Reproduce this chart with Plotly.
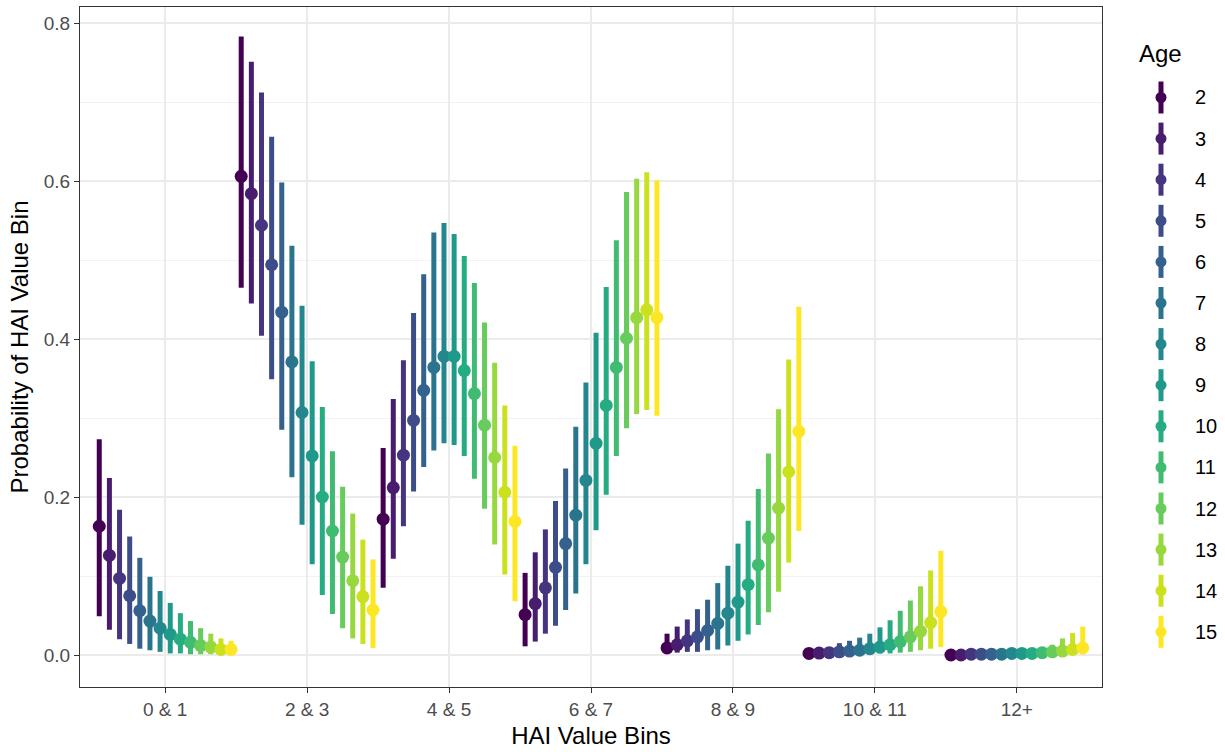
import plotly.graph_objects as go

# HAI value bins on the x axis and the ages shown as dodged point-ranges
bins = ["0 & 1", "2 & 3", "4 & 5", "6 & 7", "8 & 9", "10 & 11", "12+"]
ages = [2, 3, 4, 5, 6, 7, 8, 9, 10, 11, 12, 13, 14, 15]

# viridis palette, one colour per age
age_colors = ["#440154", "#481C6E", "#453581", "#3D4D8A", "#34618D", "#2B748E", "#24878E",
              "#1F998A", "#25AC82", "#40BC72", "#67CC5C", "#97D83F", "#CBE11E", "#FDE725"]

# estimated probability with lower / upper interval, per bin, ages 2..15
est_0_1 = [0.163, 0.126, 0.097, 0.075, 0.056, 0.043, 0.034, 0.026, 0.020, 0.016, 0.012, 0.010, 0.007, 0.007]
lo_0_1 = [0.049, 0.032, 0.020, 0.014, 0.008, 0.006, 0.004, 0.002, 0.002, 0.001, 0.001, 0.001, 0.000, 0.000]
hi_0_1 = [0.273, 0.224, 0.184, 0.150, 0.123, 0.099, 0.081, 0.066, 0.053, 0.043, 0.034, 0.027, 0.021, 0.018]

est_2_3 = [0.606, 0.584, 0.544, 0.494, 0.434, 0.371, 0.307, 0.252, 0.200, 0.157, 0.124, 0.094, 0.074, 0.057]
lo_2_3 = [0.465, 0.445, 0.404, 0.349, 0.285, 0.225, 0.165, 0.115, 0.076, 0.052, 0.034, 0.021, 0.014, 0.009]
hi_2_3 = [0.783, 0.751, 0.712, 0.656, 0.598, 0.518, 0.442, 0.372, 0.314, 0.258, 0.213, 0.179, 0.146, 0.121]

est_4_5 = [0.172, 0.212, 0.253, 0.297, 0.335, 0.364, 0.378, 0.378, 0.360, 0.331, 0.291, 0.250, 0.206, 0.169]
lo_4_5 = [0.085, 0.122, 0.163, 0.207, 0.238, 0.259, 0.268, 0.266, 0.252, 0.223, 0.185, 0.140, 0.102, 0.068]
hi_4_5 = [0.262, 0.324, 0.373, 0.433, 0.482, 0.535, 0.547, 0.533, 0.505, 0.471, 0.421, 0.370, 0.316, 0.265]

est_6_7 = [0.051, 0.065, 0.085, 0.111, 0.141, 0.177, 0.221, 0.268, 0.316, 0.364, 0.401, 0.427, 0.437, 0.427]
lo_6_7 = [0.011, 0.017, 0.027, 0.037, 0.057, 0.078, 0.115, 0.158, 0.203, 0.252, 0.287, 0.305, 0.310, 0.303]
hi_6_7 = [0.104, 0.130, 0.159, 0.195, 0.236, 0.289, 0.345, 0.408, 0.466, 0.525, 0.586, 0.603, 0.611, 0.601]

est_8_9 = [0.009, 0.013, 0.018, 0.023, 0.031, 0.040, 0.053, 0.067, 0.089, 0.114, 0.148, 0.186, 0.232, 0.283]
lo_8_9 = [0.002, 0.003, 0.004, 0.004, 0.006, 0.007, 0.012, 0.018, 0.026, 0.038, 0.054, 0.080, 0.117, 0.157]
hi_8_9 = [0.027, 0.036, 0.045, 0.058, 0.070, 0.091, 0.113, 0.141, 0.170, 0.210, 0.255, 0.311, 0.374, 0.441]

est_10_11 = [0.002, 0.0025, 0.003, 0.004, 0.005, 0.006, 0.008, 0.010, 0.013, 0.017, 0.023, 0.030, 0.041, 0.055]
lo_10_11 = [0.000, 0.000, 0.000, 0.001, 0.001, 0.001, 0.001, 0.002, 0.002, 0.003, 0.004, 0.006, 0.008, 0.010]
hi_10_11 = [0.006, 0.008, 0.010, 0.015, 0.018, 0.022, 0.027, 0.035, 0.044, 0.056, 0.069, 0.087, 0.107, 0.132]

est_12p = [0.000, 0.000, 0.001, 0.001, 0.001, 0.001, 0.002, 0.002, 0.002, 0.003, 0.004, 0.005, 0.007, 0.009]
lo_12p = [0.000, 0.000, 0.000, 0.000, 0.000, 0.000, 0.000, 0.000, 0.000, 0.000, 0.000, 0.000, 0.001, 0.001]
hi_12p = [0.003, 0.003, 0.003, 0.004, 0.004, 0.005, 0.006, 0.007, 0.008, 0.010, 0.013, 0.021, 0.028, 0.036]

est_by_bin = [est_0_1, est_2_3, est_4_5, est_6_7, est_8_9, est_10_11, est_12p]
lo_by_bin = [lo_0_1, lo_2_3, lo_4_5, lo_6_7, lo_8_9, lo_10_11, lo_12p]
hi_by_bin = [hi_0_1, hi_2_3, hi_4_5, hi_6_7, hi_8_9, hi_10_11, hi_12p]

W, H = 1225, 752
ML, MR, MT, MB = 80, 123, 7, 65
FONT = "Liberation Sans, Arial, sans-serif"
DODGE = 1.0
n_age = len(ages)

fig = go.Figure()

for j, age in enumerate(ages):
    col = age_colors[j]
    xs = [b + 1 + (j - (n_age - 1) / 2) * DODGE / n_age for b in range(len(bins))]
    mid = [e[j] for e in est_by_bin]
    low = [l[j] for l in lo_by_bin]
    high = [h[j] for h in hi_by_bin]
    fig.add_trace(go.Scatter(
        x=xs, y=mid, mode="markers", name=str(age), showlegend=False,
        marker=dict(color=col, size=13, line=dict(width=0)),
        error_y=dict(type="data", symmetric=False,
                     array=[h - m for h, m in zip(high, mid)],
                     arrayminus=[m - l for m, l in zip(mid, low)],
                     thickness=5, width=0, color=col),
        hovertemplate="Age " + str(age) + "<br>%{y:.3f}<extra></extra>",
    ))

# legend drawn as point-range keys beside the panel
plot_w = W - ML - MR
plot_h = H - MT - MB


def px_x(px):
    return (px - ML) / plot_w


def px_y(py):
    return (H - MB - py) / plot_h


shapes = []
annotations = []
key_x = px_x(1161)
for j, age in enumerate(ages):
    col = age_colors[j]
    yc = px_y(97.5 + j * 41.1)
    shapes.append(dict(type="line", xref="paper", yref="paper", xsizemode="pixel", ysizemode="pixel",
                       xanchor=key_x, yanchor=yc, x0=0, x1=0, y0=-16, y1=16,
                       line=dict(color=col, width=5)))
    shapes.append(dict(type="circle", xref="paper", yref="paper", xsizemode="pixel", ysizemode="pixel",
                       xanchor=key_x, yanchor=yc, x0=-5.5, x1=5.5, y0=-5.5, y1=5.5,
                       fillcolor=col, line=dict(width=0)))
    annotations.append(dict(x=px_x(1193), y=yc, xref="paper", yref="paper", text=str(age),
                            showarrow=False, xanchor="left", yanchor="middle",
                            font=dict(family=FONT, size=20, color="black")))
annotations.append(dict(x=px_x(1137), y=px_y(54), xref="paper", yref="paper", text="Age",
                        showarrow=False, xanchor="left", yanchor="middle",
                        font=dict(family=FONT, size=24, color="black")))

fig.update_layout(
    width=W, height=H,
    margin=dict(l=ML, r=MR, t=MT, b=MB),
    paper_bgcolor="white", plot_bgcolor="white",
    font=dict(family=FONT),
    shapes=shapes, annotations=annotations,
    showlegend=False,
)

fig.update_xaxes(
    range=[0.4, 7.6], tickmode="array", tickvals=list(range(1, len(bins) + 1)), ticktext=bins,
    showgrid=True, gridcolor="#EBEBEB", gridwidth=1.5, zeroline=False,
    ticks="outside", ticklen=5, tickwidth=1.3, tickcolor="#333333",
    showline=True, mirror=True, linecolor="#333333", linewidth=1.3,
    tickfont=dict(family=FONT, size=19, color="#4D4D4D"),
    title=dict(text="HAI Value Bins", font=dict(family=FONT, size=24, color="black"), standoff=8),
)
fig.update_yaxes(
    range=[-0.0405, 0.8203], tickmode="array", tickvals=[0, 0.2, 0.4, 0.6, 0.8],
    ticktext=["0.0", "0.2", "0.4", "0.6", "0.8"],
    showgrid=True, gridcolor="#EBEBEB", gridwidth=1.5, zeroline=False,
    minor=dict(tickmode="array", tickvals=[0.1, 0.3, 0.5, 0.7], showgrid=True,
               gridcolor="#F2F2F2", gridwidth=1, ticks=""),
    ticks="outside", ticklen=5, tickwidth=1.3, tickcolor="#333333",
    showline=True, mirror=True, linecolor="#333333", linewidth=1.3,
    tickfont=dict(family=FONT, size=19, color="#4D4D4D"),
    title=dict(text="Probability of HAI Value Bin", font=dict(family=FONT, size=24, color="black"), standoff=8),
)

fig.write_html("out.html")
